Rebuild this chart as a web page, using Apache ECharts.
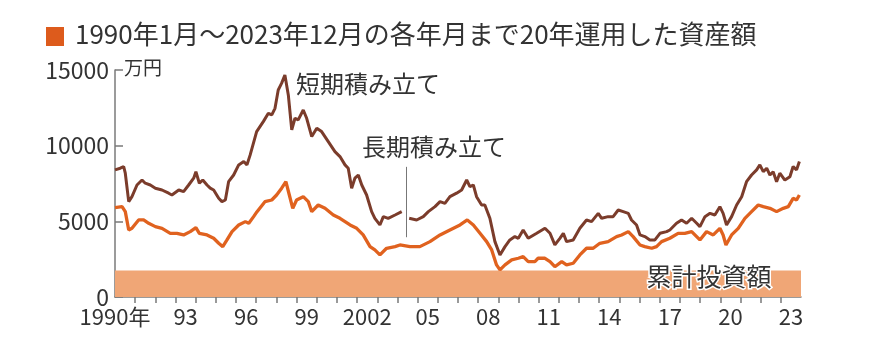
<!DOCTYPE html>
<html>
<head>
<meta charset="utf-8">
<script src="https://cdn.jsdelivr.net/npm/echarts@6/dist/echarts.min.js"></script>
<style>
  html, body { margin: 0; padding: 0; background: #fff; }
  #chart { width: 872px; height: 353px; }
</style>
</head>
<body>
<div id="chart"></div>
<script>
// [decimal year, 万円]
const shortTerm = [
  [1990.00, 8400], [1990.26, 8510], [1990.43, 8620], [1990.51, 8180], [1990.68, 6300], [1990.84, 6630],
  [1991.09, 7400], [1991.34, 7730], [1991.50, 7520], [1991.75, 7400], [1992.00, 7190], [1992.33, 7070],
  [1992.66, 6860], [1992.82, 6740], [1993.16, 7070], [1993.40, 6960], [1993.65, 7400], [1993.90, 7850],
  [1994.01, 8280], [1994.18, 7520], [1994.35, 7730], [1994.56, 7400], [1994.72, 7190], [1994.89, 7070],
  [1995.14, 6520], [1995.30, 6300], [1995.47, 6410], [1995.63, 7620], [1995.88, 8060], [1996.13, 8730],
  [1996.38, 8950], [1996.54, 8730], [1996.70, 9390], [1997.02, 10930], [1997.35, 11590], [1997.60, 12140],
  [1997.77, 12030], [1997.93, 12470], [1998.09, 13680], [1998.26, 14130], [1998.42, 14670], [1998.59, 13350],
  [1998.76, 11040], [1998.92, 11810], [1999.08, 11700], [1999.33, 12360], [1999.50, 11810], [1999.75, 10600],
  [2000.00, 11150], [2000.24, 10930], [2000.57, 10270], [2000.90, 9610], [2001.15, 9280], [2001.40, 8730],
  [2001.56, 8510], [2001.73, 7190], [2001.89, 7850], [2002.06, 8060], [2002.23, 7400], [2002.47, 6740],
  [2002.72, 5640], [2002.88, 5200], [2003.13, 4760], [2003.30, 5310], [2003.54, 5200], [2003.88, 5420],
  [2003.96, 5310], [2004.21, 5640], [2004.40, '-'], [2004.58, 5200], [2004.95, 5090], [2005.28, 5310],
  [2005.53, 5640], [2005.86, 5970], [2006.11, 6300], [2006.35, 6190], [2006.60, 6630], [2006.93, 6860],
  [2007.18, 7070], [2007.43, 7730], [2007.59, 7290], [2007.76, 7400], [2007.92, 6630], [2008.17, 6080],
  [2008.33, 6080], [2008.58, 5200], [2008.83, 3660], [2009.08, 2780], [2009.33, 3330], [2009.57, 3770],
  [2009.82, 3990], [2009.99, 3880], [2010.23, 4430], [2010.48, 3880], [2010.56, 3990], [2010.90, 4210],
  [2011.31, 4540], [2011.56, 4210], [2011.80, 3440], [2012.05, 3880], [2012.22, 4210], [2012.38, 3660],
  [2012.71, 3770], [2013.04, 4540], [2013.37, 5090], [2013.62, 4980], [2013.95, 5530], [2014.12, 5200],
  [2014.44, 5310], [2014.69, 5310], [2014.94, 5750], [2015.19, 5640], [2015.44, 5530], [2015.60, 5090],
  [2015.85, 4760], [2016.02, 4100], [2016.26, 3990], [2016.51, 3770], [2016.76, 3770], [2017.01, 4210],
  [2017.34, 4320], [2017.50, 4430], [2017.83, 4870], [2018.08, 5090], [2018.33, 4870], [2018.58, 5200],
  [2018.83, 4870], [2018.99, 4650], [2019.24, 5310], [2019.49, 5530], [2019.73, 5420], [2019.98, 5970],
  [2020.14, 5530], [2020.31, 4760], [2020.56, 5310], [2020.81, 6080], [2021.06, 6630], [2021.30, 7620],
  [2021.55, 8060], [2021.80, 8400], [2021.96, 8730], [2022.13, 8280], [2022.30, 8510], [2022.46, 8060],
  [2022.62, 8280], [2022.79, 7620], [2022.95, 8180], [2023.20, 7730], [2023.45, 7950], [2023.61, 8620],
  [2023.78, 8400], [2023.92, 8950]
]

const longTerm = [
  [1990.00, 5910], [1990.35, 5970], [1990.51, 5640], [1990.68, 4430], [1990.84, 4540], [1991.17, 5090],
  [1991.42, 5090], [1991.67, 4870], [1992.00, 4650], [1992.33, 4540], [1992.74, 4210], [1993.07, 4210],
  [1993.40, 4100], [1993.73, 4320], [1994.01, 4580], [1994.18, 4210], [1994.56, 4100], [1994.89, 3880],
  [1995.14, 3550], [1995.34, 3330], [1995.55, 3770], [1995.80, 4320], [1996.13, 4760], [1996.46, 4980],
  [1996.63, 4870], [1996.87, 5310], [1997.04, 5640], [1997.43, 6300], [1997.77, 6410], [1998.01, 6740],
  [1998.26, 7190], [1998.47, 7620], [1998.64, 6740], [1998.81, 5860], [1999.00, 6410], [1999.33, 6630],
  [1999.58, 6300], [1999.75, 5640], [2000.07, 6080], [2000.41, 5860], [2000.82, 5420], [2001.15, 5200],
  [2001.40, 4980], [2001.65, 4760], [2001.98, 4540], [2002.30, 4100], [2002.64, 3330], [2002.88, 3110],
  [2003.13, 2780], [2003.46, 3220], [2003.88, 3330], [2004.12, 3440], [2004.62, 3330], [2005.11, 3330],
  [2005.61, 3660], [2006.11, 4100], [2006.60, 4430], [2007.10, 4760], [2007.46, 5090], [2007.76, 4760],
  [2008.09, 4210], [2008.42, 3660], [2008.67, 3110], [2008.91, 2120], [2009.08, 1790], [2009.33, 2120],
  [2009.66, 2450], [2009.99, 2560], [2010.23, 2670], [2010.48, 2340], [2010.81, 2340], [2010.97, 2560],
  [2011.31, 2560], [2011.56, 2340], [2011.80, 2000], [2012.14, 2340], [2012.38, 2120], [2012.71, 2230],
  [2013.04, 2780], [2013.37, 3220], [2013.70, 3220], [2014.03, 3550], [2014.44, 3660], [2014.86, 3990],
  [2015.11, 4100], [2015.44, 4320], [2015.68, 3990], [2016.02, 3440], [2016.26, 3330], [2016.60, 3220],
  [2016.84, 3330], [2017.09, 3660], [2017.50, 3880], [2017.91, 4210], [2018.24, 4210], [2018.58, 4320],
  [2018.99, 3770], [2019.32, 4320], [2019.65, 4100], [2019.98, 4540], [2020.14, 4100], [2020.28, 3440],
  [2020.56, 4100], [2020.89, 4540], [2021.22, 5200], [2021.55, 5640], [2021.88, 6080], [2022.13, 5970],
  [2022.46, 5860], [2022.79, 5640], [2023.12, 5860], [2023.37, 5970], [2023.61, 6520], [2023.78, 6410],
  [2023.92, 6740]
]

const cumulativeInvest = 1750
const cumulativeSpan = [1990, 2024]

const yearTicks = [1991, 1992, 1993, 1994, 1995, 1996, 1997, 1998, 1999, 2000, 2001, 2002, 2003, 2004,
  2005, 2006, 2007, 2008, 2009, 2010, 2011, 2012, 2013, 2014, 2015, 2016, 2017, 2018, 2019, 2020,
  2021, 2022, 2023]
const labelPositions = [1990, 1993.5, 1996.5, 1999.5, 2002.5, 2005.5, 2008.5, 2011.5, 2014.5, 2017.5, 2020.5, 2023.5]
const labelTexts = ['1990年', '93', '96', '99', '2002', '05', '08', '11', '14', '17', '20', '23']

const leaderYear = 2004.45
const leaderRange = [3950, 8600]

const FONT = "'Noto Sans CJK JP', 'Noto Sans', sans-serif"
const AXIS = '#7a7a7a'
const TEXT = '#333'

const chart = echarts.init(document.getElementById('chart'), null, { renderer: 'canvas' })

chart.setOption({
  animation: false,
  grid: { left: 115, right: 71, top: 70, bottom: 56 },
  xAxis: {
    type: 'value',
    min: 1990,
    max: 2024,
    axisLine: { show: true, lineStyle: { color: AXIS, width: 1.5 } },
    axisTick: { show: true, length: 6, lineStyle: { color: AXIS, width: 1.5 }, customValues: yearTicks },
    axisLabel: {
      color: TEXT,
      fontFamily: FONT,
      fontSize: 22,
      margin: 9,
      customValues: labelPositions,
      formatter: (value) => labelTexts[labelPositions.indexOf(value)] || '',
    },
    splitLine: { show: false },
  },
  yAxis: {
    type: 'value',
    min: 0,
    max: 15000,
    interval: 5000,
    axisLine: { show: true, lineStyle: { color: AXIS, width: 1.5 } },
    axisTick: { show: true, inside: true, length: 8, lineStyle: { color: AXIS, width: 1.5 } },
    axisLabel: { color: TEXT, fontFamily: FONT, fontSize: 23, margin: 6, formatter: (value) => String(value) },
    splitLine: { show: false },
  },
  series: [
    {
      name: '累計投資額',
      type: 'line',
      data: cumulativeSpan.map((year) => [year, cumulativeInvest]),
      showSymbol: false,
      lineStyle: { width: 0 },
      areaStyle: { color: '#f0a676', opacity: 1 },
      z: 1,
      silent: true,
    },
    {
      name: '短期積み立て',
      type: 'line',
      data: shortTerm,
      showSymbol: false,
      connectNulls: false,
      lineStyle: { color: '#7b3c2b', width: 3 },
      z: 3,
    },
    {
      name: '長期積み立て',
      type: 'line',
      data: longTerm,
      showSymbol: false,
      lineStyle: { color: '#e0621f', width: 3.3 },
      z: 2,
      markLine: {
        silent: true,
        symbol: ['none', 'none'],
        label: { show: false },
        lineStyle: { color: '#777', width: 1, type: 'solid' },
        data: [[{ coord: [leaderYear, leaderRange[0]] }, { coord: [leaderYear, leaderRange[1]] }]],
      },
    },
  ],
  graphic: [
    { type: 'rect', left: 46, top: 27, shape: { width: 18, height: 19 }, style: { fill: '#dd5b1c' } },
    {
      type: 'text', left: 75, top: 21,
      style: { text: '1990年1月～2023年12月の各年月まで20年運用した資産額', fill: TEXT, font: `26px ${FONT}` },
    },
    { type: 'text', left: 124, top: 58, style: { text: '万円', fill: TEXT, font: `19px ${FONT}` } },
    { type: 'text', left: 296, top: 72, style: { text: '短期積み立て', fill: TEXT, font: `24px ${FONT}` } },
    { type: 'text', left: 362, top: 135, style: { text: '長期積み立て', fill: TEXT, font: `24px ${FONT}` } },
    {
      type: 'text', left: 645, top: 262, z: 10,
      style: { text: '累計投資額', fill: TEXT, font: `25px ${FONT}`, stroke: '#fff', lineWidth: 3 },
    },
  ],
})
</script>
</body>
</html>
